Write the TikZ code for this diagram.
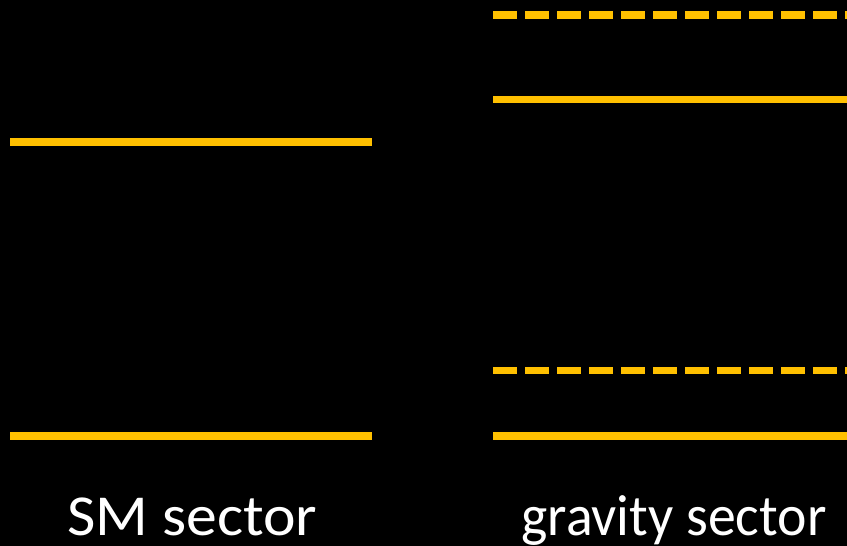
\documentclass[tikz,border=0pt]{standalone}
\usepackage{fontspec}
\usepackage{graphicx}
\setmainfont{Carlito}
\definecolor{gold}{HTML}{FFC000}
\begin{document}
\begin{tikzpicture}[x=1pt,y=-1pt,
  level/.style={draw=gold,line width=7.5pt,line cap=butt},
  dlevel/.style={level,dash pattern=on 24pt off 8pt},
  lbl/.style={text=white,font=\fontsize{58}{62}\selectfont,anchor=base,inner sep=0pt}]
\fill[black] (0,0) rectangle (847,546);
\useasboundingbox (0,0) rectangle (847,546);
% SM sector
\coordinate (sm1a) at (10,142); \coordinate (sm1b) at (372,142);
\coordinate (sm2a) at (10,436); \coordinate (sm2b) at (372,436);
\draw[level] (sm1a) -- (sm1b);
\draw[level] (sm2a) -- (sm2b);
% gravity sector
\coordinate (g1a) at (493.3,15.2); \coordinate (g1b) at (847,15.2);
\coordinate (g2a) at (493.3,99.3); \coordinate (g2b) at (847,99.3);
\coordinate (g3a) at (493.3,370.4); \coordinate (g3b) at (847,370.4);
\coordinate (g4a) at (493.3,436); \coordinate (g4b) at (847,436);
\draw[dlevel] (g1a) -- (g1b);
\draw[level] (g2a) -- (g2b);
\draw[dlevel] (g3a) -- (g3b);
\draw[level] (g4a) -- (g4b);
\node[lbl] (smlbl) at (192.2,535) {\resizebox{250pt}{\height}{SM sector}};
\node[lbl] (grlbl) at (673.9,535) {\resizebox{305pt}{\height}{gravity sector}};
\end{tikzpicture}
\end{document}
